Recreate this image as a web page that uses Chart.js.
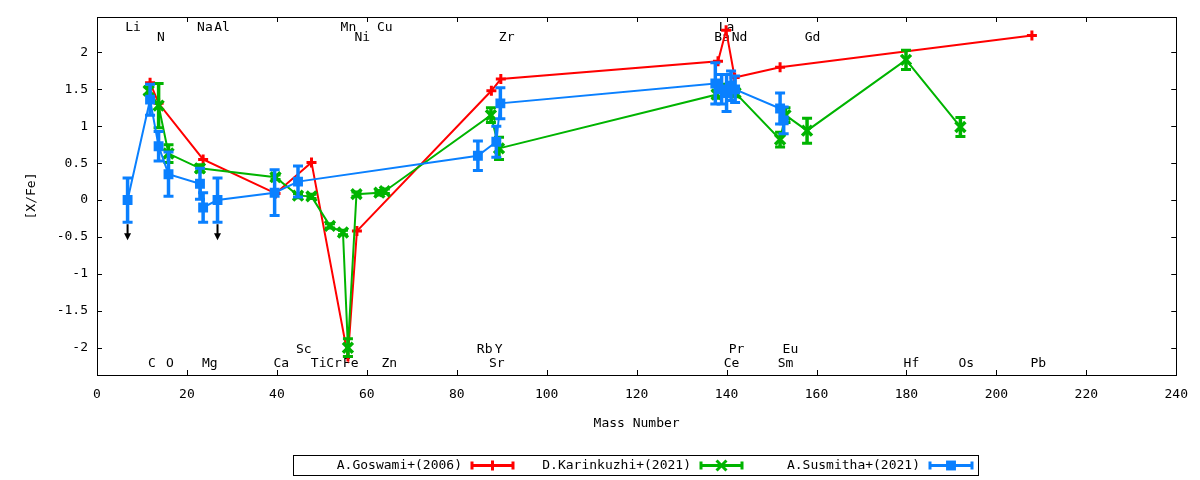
<!DOCTYPE html>
<html>
<head>
<meta charset="utf-8">
<script src="https://cdn.jsdelivr.net/npm/chart.js@4.4.1/dist/chart.umd.min.js"></script>
<style>
  html, body { margin: 0; padding: 0; background: #fff; }
</style>
</head>
<body>
<canvas id="abundChart" width="1200" height="480"></canvas>
<script>
// A.Goswami+(2006)
var gosMass = [11.8, 13.7, 23.6, 39.7, 47.7, 55.8, 57.8, 87.7, 89.8, 138.1, 139.9, 141.8, 151.9, 207.9]
var gosVal  = [1.59, 1.31, 0.55, 0.09, 0.51, -2.12, -0.42, 1.48, 1.64, 1.88, 2.30, 1.66, 1.80, 2.23]
var gosErr  = [0, 0, 0, 0, 0, 0, 0, 0, 0, 0, 0, 0, 0, 0]

// D.Karinkuzhi+(2021)
var karMass = [11.5, 13.7, 15.9, 22.9, 39.7, 44.7, 47.7, 51.8, 54.7, 55.8, 57.7, 62.8, 64.0, 87.6, 89.4, 137.8, 139.0, 140.0, 142.0, 151.9, 153.1, 157.9, 179.9, 192.0]
var karVal  = [1.48, 1.28, 0.63, 0.43, 0.31, 0.06, 0.05, -0.35, -0.44, -2.00, 0.08, 0.10, 0.12, 1.15, 0.70, 1.43, 1.52, 1.48, 1.45, 0.82, 1.15, 0.94, 1.90, 0.99]
var karErr  = [0.05, 0.30, 0.12, 0.05, 0.03, 0.03, 0.03, 0.03, 0.03, 0.12, 0.03, 0.03, 0.03, 0.10, 0.15, 0.05, 0.05, 0.05, 0.05, 0.10, 0.10, 0.17, 0.13, 0.13]

// A.Susmitha+(2021)
var susMass  = [6.8, 11.8, 13.7, 15.9, 22.9, 23.6, 26.8, 39.5, 44.7, 84.7, 88.8, 89.7, 137.5, 138.9, 140.0, 141.0, 141.9, 151.9, 152.7]
var susVal   = [0.00, 1.36, 0.73, 0.35, 0.22, -0.10, 0.00, 0.10, 0.25, 0.60, 0.79, 1.31, 1.58, 1.50, 1.45, 1.55, 1.50, 1.24, 1.08]
var susErr   = [0.30, 0.21, 0.20, 0.30, 0.21, 0.20, 0.30, 0.31, 0.21, 0.20, 0.21, 0.21, 0.28, 0.20, 0.25, 0.20, 0.18, 0.21, 0.18]
var susUpper = [true, false, false, false, false, false, true, false, false, false, false, false, false, false, false, false, false, false, false]

// element names written across the plot (mass, [X/Fe] row)
var elemName = ['Li', 'Na', 'Al', 'Mn', 'Cu', 'La',
                'N', 'Ni', 'Zr', 'Ba', 'Nd', 'Gd',
                'Sc', 'Rb', 'Y', 'Pr', 'Eu',
                'C', 'O', 'Mg', 'Ca', 'Ti', 'Cr', 'Fe', 'Zn', 'Sr', 'Ce', 'Sm', 'Hf', 'Os', 'Pb']
var elemMass = [8.0, 24.0, 27.8, 55.9, 64.0, 140.0,
                14.2, 59.0, 91.1, 139.0, 142.9, 159.1,
                46.0, 86.2, 89.3, 142.2, 154.2,
                12.2, 16.2, 25.1, 41.0, 49.3, 52.7, 56.4, 65.0, 88.9, 141.1, 153.1, 181.1, 193.3, 209.3]
var elemRow  = [2.33, 2.33, 2.33, 2.33, 2.33, 2.33,
                2.195, 2.195, 2.195, 2.195, 2.195, 2.195,
                -2.02, -2.02, -2.02, -2.02, -2.02,
                -2.21, -2.21, -2.21, -2.21, -2.21, -2.21, -2.21, -2.21, -2.21, -2.21, -2.21, -2.21, -2.21, -2.21]

var xTicks = [0, 20, 40, 60, 80, 100, 120, 140, 160, 180, 200, 220, 240]
var yTicks = [-2, -1.5, -1, -0.5, 0, 0.5, 1, 1.5, 2]

var mono = "'DejaVu Sans Mono', 'Liberation Mono', monospace"

function points(mass, val){
  return mass.map(function(m, i){ return {x: m, y: val[i]} })
}

// vertical error bars (+ upper-limit arrows), drawn under each dataset's own markers
var errorBars = {
  id: 'errorBars',
  beforeDatasetDraw: function(chart, args){
    var ds = chart.data.datasets[args.index]
    var ctx = chart.ctx
    var ys = chart.scales.y
    ctx.save()
    args.meta.data.forEach(function(pt, i){
      var v = ds.data[i].y
      var e = ds.errs[i]
      var top = ys.getPixelForValue(v + e)
      var bot = ys.getPixelForValue(v - e)
      if(e > 0){
        ctx.strokeStyle = ds.borderColor
        ctx.lineWidth = 3.5
        ctx.beginPath()
        ctx.moveTo(pt.x, top); ctx.lineTo(pt.x, bot)
        ctx.stroke()
        ctx.lineWidth = 3
        ctx.beginPath()
        ctx.moveTo(pt.x - 5, top); ctx.lineTo(pt.x + 5, top)
        ctx.moveTo(pt.x - 5, bot); ctx.lineTo(pt.x + 5, bot)
        ctx.stroke()
      }
      if(ds.limits && ds.limits[i]){
        ctx.strokeStyle = '#000'
        ctx.fillStyle = '#000'
        ctx.lineWidth = 2
        ctx.beginPath()
        ctx.moveTo(pt.x, bot + 2); ctx.lineTo(pt.x, bot + 13)
        ctx.stroke()
        ctx.beginPath()
        ctx.moveTo(pt.x - 3.5, bot + 11); ctx.lineTo(pt.x + 3.5, bot + 11); ctx.lineTo(pt.x, bot + 18)
        ctx.closePath()
        ctx.fill()
      }
    })
    ctx.restore()
  }
}

// gnuplot-like frame, inward mirrored ticks, element names, axis titles
var frame = {
  id: 'frame',
  beforeDatasetsDraw: function(chart){
    var ctx = chart.ctx
    var a = chart.chartArea
    var xs = chart.scales.x, ys = chart.scales.y
    ctx.save()
    ctx.strokeStyle = '#000'
    ctx.lineWidth = 1
    ctx.strokeRect(Math.round(a.left) + 0.5, Math.round(a.top) + 0.5, Math.round(a.right - a.left), Math.round(a.bottom - a.top))
    ctx.beginPath()
    xTicks.forEach(function(t){
      var px = Math.round(xs.getPixelForValue(t)) + 0.5
      ctx.moveTo(px, a.bottom); ctx.lineTo(px, a.bottom - 5)
      ctx.moveTo(px, a.top); ctx.lineTo(px, a.top + 5)
    })
    yTicks.forEach(function(t){
      var py = Math.round(ys.getPixelForValue(t)) + 0.5
      ctx.moveTo(a.left, py); ctx.lineTo(a.left + 5, py)
      ctx.moveTo(a.right, py); ctx.lineTo(a.right - 5, py)
    })
    ctx.stroke()

    ctx.fillStyle = '#000'
    ctx.font = '13px ' + mono
    ctx.textAlign = 'center'
    ctx.textBaseline = 'middle'
    elemName.forEach(function(n, i){
      ctx.fillText(n, xs.getPixelForValue(elemMass[i]), ys.getPixelForValue(elemRow[i]))
    })

    ctx.fillText('Mass Number', (a.left + a.right) / 2, 424)
    ctx.translate(32, (a.top + a.bottom) / 2)
    ctx.rotate(-Math.PI / 2)
    ctx.fillText('[X/Fe]', 0, 0)
    ctx.restore()
  }
}

// boxed legend under the plot, text on the left of each sample
var legendBox = {
  id: 'legendBox',
  afterDraw: function(chart){
    var ctx = chart.ctx
    var slots = [
      {textRight: 462, x0: 471, x1: 514},
      {textRight: 691, x0: 700, x1: 743},
      {textRight: 920, x0: 929, x1: 973}
    ]
    var y = 465.5
    ctx.save()
    ctx.strokeStyle = '#000'
    ctx.lineWidth = 1
    ctx.strokeRect(293.5, 455.5, 685, 20)
    ctx.font = '13px ' + mono
    ctx.textAlign = 'right'
    ctx.textBaseline = 'middle'
    chart.data.datasets.forEach(function(ds, i){
      var s = slots[i]
      ctx.fillStyle = '#000'
      ctx.fillText(ds.label, s.textRight, y)
      ctx.strokeStyle = ds.borderColor
      ctx.lineWidth = 3
      ctx.beginPath()
      ctx.moveTo(s.x0, y); ctx.lineTo(s.x1, y)
      ctx.moveTo(s.x0 + 1, y - 4); ctx.lineTo(s.x0 + 1, y + 4)
      ctx.moveTo(s.x1 - 1, y - 4); ctx.lineTo(s.x1 - 1, y + 4)
      ctx.stroke()
      ctx.fillStyle = ds.pointBackgroundColor
      Chart.helpers.drawPoint(ctx, {
        pointStyle: ds.pointStyle,
        radius: ds.pointRadius,
        borderWidth: ds.pointBorderWidth,
        rotation: 0
      }, (s.x0 + s.x1) / 2, y)
    })
    ctx.restore()
  }
}

var ctx = document.getElementById('abundChart').getContext('2d')
var abundChart = new Chart(ctx, {
  type: 'scatter',
  plugins: [frame, errorBars, legendBox],
  data: {
    datasets: [{
      label: 'A.Goswami+(2006)',
      data: points(gosMass, gosVal),
      errs: gosErr,
      showLine: true,
      borderColor: '#ff0000',
      backgroundColor: '#ff0000',
      borderWidth: 2,
      pointStyle: 'cross',
      pointRadius: 5,
      pointBorderWidth: 3,
      pointBorderColor: '#ff0000',
      pointBackgroundColor: '#ff0000',
      order: 3
    }, {
      label: 'D.Karinkuzhi+(2021)',
      data: points(karMass, karVal),
      errs: karErr,
      showLine: true,
      borderColor: '#00b400',
      backgroundColor: '#00b400',
      borderWidth: 2,
      pointStyle: 'crossRot',
      pointRadius: 7,
      pointBorderWidth: 3.5,
      pointBorderColor: '#00b400',
      pointBackgroundColor: '#00b400',
      order: 2
    }, {
      label: 'A.Susmitha+(2021)',
      data: points(susMass, susVal),
      errs: susErr,
      limits: susUpper,
      showLine: true,
      borderColor: '#0a80ff',
      backgroundColor: '#0a80ff',
      borderWidth: 2,
      pointStyle: 'rect',
      pointRadius: 7,
      pointBorderWidth: 0,
      pointBorderColor: '#0a80ff',
      pointBackgroundColor: '#0a80ff',
      order: 1
    }]
  },
  options: {
    responsive: false,
    animation: false,
    layout: {
      padding: {left: 0, top: 17, right: 23, bottom: 0}
    },
    plugins: {
      legend: { display: false },
      tooltip: { enabled: false }
    },
    scales: {
      x: {
        type: 'linear',
        position: 'bottom',
        min: 0,
        max: 240,
        grid: { display: false, drawTicks: false },
        border: { display: false },
        afterBuildTicks: function(axis){ axis.ticks = xTicks.map(function(v){ return {value: v} }) },
        afterFit: function(axis){ axis.height = 105 },
        ticks: {
          color: '#000',
          padding: 12,
          maxRotation: 0,
          autoSkip: false,
          font: { family: mono, size: 13 }
        }
      },
      y: {
        type: 'linear',
        position: 'left',
        min: -2.37,
        max: 2.48,
        grid: { display: false, drawTicks: false },
        border: { display: false },
        afterBuildTicks: function(axis){ axis.ticks = yTicks.map(function(v){ return {value: v} }) },
        afterFit: function(axis){ axis.width = 97 },
        ticks: {
          color: '#000',
          padding: 9,
          autoSkip: false,
          font: { family: mono, size: 13 },
          callback: function(v){ return String(v) }
        }
      }
    }
  }
})
</script>
</body>
</html>
